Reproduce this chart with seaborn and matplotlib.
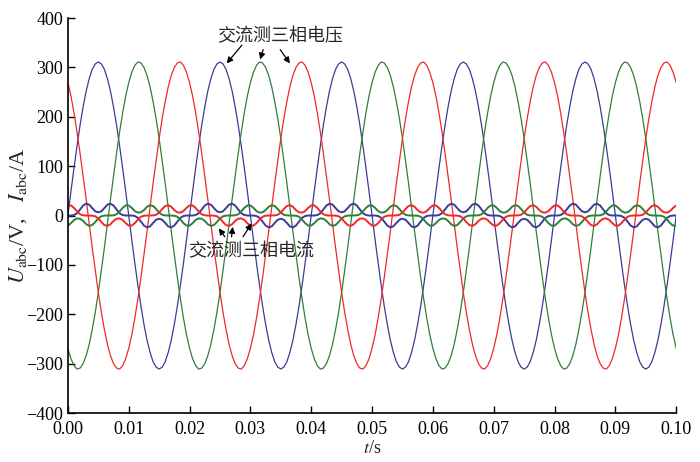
"""交流侧三相电压/电流波形"""
import matplotlib
matplotlib.use('Agg')
import matplotlib.pyplot as plt
import seaborn as sns
import pandas as pd
import numpy as np

# 每个周期(0.02 s)按 0.5 ms 读取的数值，波形在 0~0.1 s 内重复 5 个周期
dt = 0.0005
n_cycles = 5

# 三相电压 (V)
ua_cycle = [0, 49, 96, 141, 183, 220, 252, 277, 296, 307, 311, 307, 296, 277, 252, 220, 183, 141, 96, 49,
            0, -49, -96, -141, -183, -220, -252, -277, -296, -307, -311, -307, -296, -277, -252, -220, -183, -141, -96, -49]
ub_cycle = [-269, -290, -304, -311, -309, -300, -284, -261, -231, -196, -156, -111, -65, -16, 33, 80, 126, 169, 208, 242,
            269, 290, 304, 311, 309, 300, 284, 261, 231, 196, 156, 111, 65, 16, -33, -80, -126, -169, -208, -242]
uc_cycle = [269, 242, 208, 169, 126, 80, 33, -16, -65, -111, -156, -196, -231, -261, -284, -300, -309, -311, -304, -290,
            -269, -242, -208, -169, -126, -80, -33, 16, 65, 111, 156, 196, 231, 261, 284, 300, 309, 311, 304, 290]

# 三相电流 (A)，每半周两个脉冲
ia_cycle = [0, 0, 1.0, 4.6, 12.2, 20.2, 24, 22.1, 15.1, 8.6, 6.5, 8.6, 15.1, 22.1, 24, 20.2, 12.2, 4.6, 1.0, 0,
            0, 0, -1.0, -4.6, -12.2, -20.2, -24, -22.1, -15.1, -8.6, -6.5, -8.6, -15.1, -22.1, -24, -20.2, -12.2, -4.6, -1.0, 0]
ib_cycle = [-20.4, -15.5, -9, -5.9, -6.5, -10.9, -17.6, -21, -19.3, -13.2, -5.9, -1.5, -0.2, 0, 0, 0.4, 2.5, 8.2, 15.5, 20.4,
            20.4, 15.5, 9, 5.9, 6.5, 10.9, 17.6, 21, 19.3, 13.2, 5.9, 1.5, 0.2, 0, 0, -0.4, -2.5, -8.2, -15.5, -20.4]
ic_cycle = [20.4, 20.4, 15.5, 8.2, 2.5, 0.4, 0, 0, -0.2, -1.5, -5.9, -13.2, -19.3, -21, -17.6, -10.9, -6.5, -5.9, -9, -15.5,
            -20.4, -20.4, -15.5, -8.2, -2.5, -0.4, 0, 0, 0.2, 1.5, 5.9, 13.2, 19.3, 21, 17.6, 10.9, 6.5, 5.9, 9, 15.5]

colors = {'a': '#3b3b98', 'b': '#2f7f37', 'c': '#f02828'}

x_ticks = [0.00, 0.01, 0.02, 0.03, 0.04, 0.05, 0.06, 0.07, 0.08, 0.09, 0.10]
y_ticks = [-400, -300, -200, -100, 0, 100, 200, 300, 400]


def full_wave(cycle):
    # 重复周期并补上 t=0.1 s 的最后一点
    return cycle * n_cycles + cycle[:1]


n_pts = len(ua_cycle) * n_cycles + 1
t = np.arange(n_pts) * dt

volt = pd.DataFrame({'t': np.tile(t, 3),
                     'value': full_wave(ua_cycle) + full_wave(ub_cycle) + full_wave(uc_cycle),
                     'phase': ['a'] * n_pts + ['b'] * n_pts + ['c'] * n_pts})
curr = pd.DataFrame({'t': np.tile(t, 3),
                     'value': full_wave(ia_cycle) + full_wave(ib_cycle) + full_wave(ic_cycle),
                     'phase': ['a'] * n_pts + ['b'] * n_pts + ['c'] * n_pts})

sns.set_style('ticks')
plt.rcParams['font.family'] = ['Liberation Serif', 'Noto Sans CJK SC']
plt.rcParams['mathtext.fontset'] = 'stix'
plt.rcParams['axes.unicode_minus'] = True

fig, ax = plt.subplots(figsize=(7, 4.62), dpi=100)
fig.subplots_adjust(left=0.097, right=0.966, bottom=0.106, top=0.961)

sns.lineplot(data=volt, x='t', y='value', hue='phase', palette=colors,
             estimator=None, sort=False, legend=False, linewidth=0.9, ax=ax)
sns.lineplot(data=curr, x='t', y='value', hue='phase', palette=colors,
             estimator=None, sort=False, legend=False, linewidth=1.4, ax=ax)

ax.set_xlim(0, 0.10)
ax.set_ylim(-400, 400)
ax.set_xticks(x_ticks)
ax.set_xticklabels([f'{v:.2f}' for v in x_ticks])
ax.set_yticks(y_ticks)
ax.tick_params(direction='in', length=5, width=1, labelsize=13, colors='black')
ax.tick_params(axis='x', pad=6)
sns.despine(ax=ax)
for s in ['left', 'bottom']:
    ax.spines[s].set_linewidth(1.2)
    ax.spines[s].set_color('black')

ax.set_xlabel(r'$t$/s', fontsize=13, labelpad=1)
ax.set_ylabel(r'$U_{\rm abc}$/V,$\quad I_{\rm abc}$/A', fontsize=16, labelpad=-2)

# 标注
cjk = ['Noto Sans CJK SC', 'DejaVu Sans']
arrow = dict(arrowstyle='-|>', color='black', lw=0.9, mutation_scale=9, shrinkA=0, shrinkB=0)
ax.text(0.0349, 364, '交流测三相电压', family=cjk, fontsize=13, ha='center', va='center')
for tail, tip in [((0.0286, 345), (0.0261, 308)),
                  ((0.0321, 336), (0.0316, 316)),
                  ((0.0349, 336), (0.0365, 308))]:
    ax.annotate('', xy=tip, xytext=tail, arrowprops=arrow)

ax.text(0.0301, -73, '交流测三相电流', family=cjk, fontsize=13, ha='center', va='center')
for tail, tip in [((0.0258, -43), (0.0248, -26)),
                  ((0.0269, -43), (0.0271, -23)),
                  ((0.0288, -43), (0.0302, -16))]:
    ax.annotate('', xy=tip, xytext=tail, arrowprops=arrow)

plt.savefig('out.png', dpi=100)
